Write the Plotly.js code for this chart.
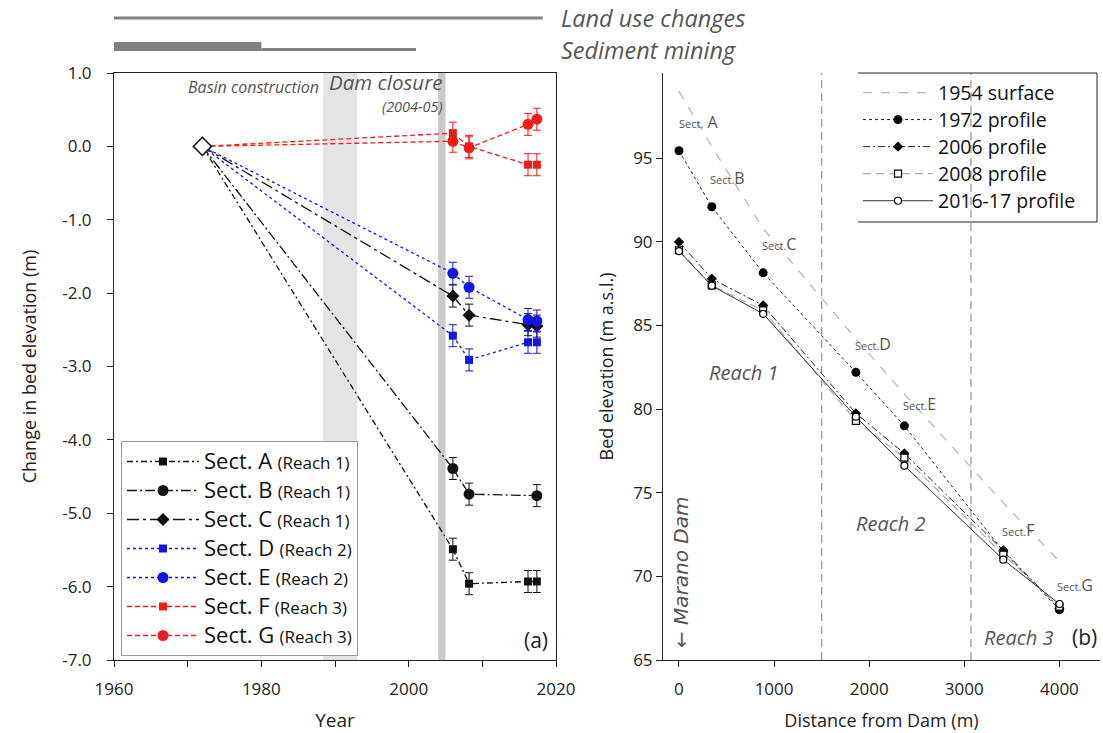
<!DOCTYPE html>
<html>
<head>
<meta charset="utf-8">
<script src="https://cdn.plot.ly/plotly-3.0.1.min.js"></script>
<style>html,body{margin:0;padding:0;background:#fff}#chart{width:1103px;height:733px}</style>
</head>
<body>
<div id="chart"></div>
<script>
// ---------- Panel (a): change in bed elevation ----------
const originYear = 1972;
const originValue = 0;
const surveyYears = [2006, 2008.2, 2016.2, 2017.4];
const surveyYearsB = [2006, 2008.2, 2017.4];
const sectA = [-5.49, -5.96, -5.93, -5.93];
const sectB = [-4.39, -4.74, -4.76];
const sectC = [-2.04, -2.30, -2.43, -2.45];
const sectD = [-2.58, -2.91, -2.67, -2.67];
const sectE = [-1.73, -1.92, -2.36, -2.38];
const sectF = [0.18, 0.00, -0.25, -0.25];
const sectG = [0.07, -0.02, 0.30, 0.37];
const errorBar = 0.15;
const basinConstruction = [1988.4, 1993];
const damClosure = [2004, 2005];
const landUseChanges = [1960, 2018.2];
const miningIntense = [1960, 1980];
const miningLight = [1980, 2001];
const yTicksA = [1, 0, -1, -2, -3, -4, -5, -6, -7];
const yTickTextA = ['1.0', '0.0', '-1.0', '-2.0', '-3.0', '-4.0', '-5.0', '-6.0', '-7.0'];
const xTicksA = [1960, 1980, 2000, 2020];

// ---------- Panel (b): longitudinal profiles ----------
const distance = [0, 345, 885, 1860, 2370, 3410, 4000];
const surface1954 = [99.0, 95.7, 90.8, 84.2, 80.9, 74.4, 70.9];
const profile1972 = [95.45, 92.1, 88.15, 82.2, 79.0, 71.5, 68.0];
const profile2006 = [90.0, 87.8, 86.2, 79.75, 77.35, 71.55, 68.1];
const profile2008 = [89.5, 87.4, 85.9, 79.3, 77.1, 71.3, 68.2];
const profile2016 = [89.45, 87.38, 85.7, 79.55, 76.62, 71.0, 68.35];
const profileNames = ['1954 surface', '1972 profile', '2006 profile', '2008 profile', '2016-17 profile'];
const reachBounds = [1500, 3070];
const sectLabels = ['A', 'B', 'C', 'D', 'E', 'F', 'G'];
const sectLabelX = [200, 510, 1053, 2037, 2526, 3568, 4168];
const sectLabelY = [97.2, 93.8, 89.9, 83.9, 80.3, 72.8, 69.5];
const xTicksB = [0, 1000, 2000, 3000, 4000];
const yTicksB = [65, 70, 75, 80, 85, 90, 95];

const FONT = '"Open Sans", "Noto Sans", sans-serif';
const BLACK = '#111111', BLUE = '#1414e6', RED = '#ee1c1c';

function pxY(p) { return 1 - p / 733; }
function pxX(p) { return p / 1103; }
function big(t, size) { return '<span style="font-size:' + size + 'px">' + t + '</span>'; }

const seriesA = [
  {name: 'A', reach: 1, x: surveyYears, y: sectA, color: BLACK, dash: '6px,3px,2px,3px', symbol: 'square', size: 8},
  {name: 'B', reach: 1, x: surveyYearsB, y: sectB, color: BLACK, dash: '10px,3px,2px,3px', symbol: 'circle', size: 11},
  {name: 'C', reach: 1, x: surveyYears, y: sectC, color: BLACK, dash: '12px,4px,3px,4px', symbol: 'diamond', size: 10},
  {name: 'D', reach: 2, x: surveyYears, y: sectD, color: BLUE, dash: 'dot', symbol: 'square', size: 8},
  {name: 'E', reach: 2, x: surveyYears, y: sectE, color: BLUE, dash: 'dot', symbol: 'circle', size: 11},
  {name: 'F', reach: 3, x: surveyYears, y: sectF, color: RED, dash: '5px,3px', symbol: 'square', size: 8},
  {name: 'G', reach: 3, x: surveyYears, y: sectG, color: RED, dash: '5px,3px', symbol: 'circle', size: 11}
];

const traces = [];
seriesA.forEach(s => {
  traces.push({
    x: [originYear, s.x[0]], y: [originValue, s.y[0]], xaxis: 'x', yaxis: 'y',
    mode: 'lines', line: {color: s.color, width: 1.3, dash: s.dash},
    showlegend: false, hoverinfo: 'skip'
  });
});
seriesA.forEach(s => {
  traces.push({
    x: s.x, y: s.y, xaxis: 'x', yaxis: 'y', legend: 'legend',
    name: big('Sect. ' + s.name, 22) + ' ' + big('(Reach ' + s.reach + ')', 17),
    mode: 'lines+markers',
    line: {color: s.color, width: 1.3, dash: s.dash},
    marker: {symbol: s.symbol, size: s.size, color: s.color},
    error_y: {type: 'constant', value: errorBar, color: s.color, thickness: 1, width: 4}
  });
});
traces.push({
  x: [originYear], y: [originValue], xaxis: 'x', yaxis: 'y', mode: 'markers',
  marker: {symbol: 'diamond', size: 14, color: '#ffffff', line: {color: BLACK, width: 1.5}},
  showlegend: false, hoverinfo: 'skip'
});

// Panel (b)
const LEG2 = 19.5;
traces.push({
  x: distance, y: surface1954, xaxis: 'x2', yaxis: 'y2', legend: 'legend2',
  name: big(profileNames[0], LEG2), mode: 'lines',
  line: {color: '#b4b4b4', width: 1.2, dash: '9px,9px'}
});
traces.push({
  x: distance, y: profile1972, xaxis: 'x2', yaxis: 'y2', legend: 'legend2',
  name: big(profileNames[1], LEG2), mode: 'lines+markers',
  line: {color: '#222', width: 1, dash: 'dot'},
  marker: {symbol: 'circle', size: 9, color: '#000'}
});
traces.push({
  x: distance, y: profile2006, xaxis: 'x2', yaxis: 'y2', legend: 'legend2',
  name: big(profileNames[2], LEG2), mode: 'lines+markers',
  line: {color: '#222', width: 1, dash: '7px,3px,2px,3px'},
  marker: {symbol: 'diamond', size: 8, color: '#000'}
});
traces.push({
  x: distance, y: profile2008, xaxis: 'x2', yaxis: 'y2', legend: 'legend2',
  name: big(profileNames[3], LEG2), mode: 'lines+markers',
  line: {color: '#aaaaaa', width: 1.2, dash: '8px,5px'},
  marker: {symbol: 'square', size: 7, color: '#fff', line: {color: '#000', width: 1.2}}
});
traces.push({
  x: distance, y: profile2016, xaxis: 'x2', yaxis: 'y2', legend: 'legend2',
  name: big(profileNames[4], LEG2), mode: 'lines+markers',
  line: {color: '#333', width: 1},
  marker: {symbol: 'circle', size: 7, color: '#fff', line: {color: '#000', width: 1.2}}
});

const shapes = [
  {type: 'rect', xref: 'x', yref: 'y domain', x0: basinConstruction[0], x1: basinConstruction[1], y0: 0, y1: 1,
   fillcolor: '#e4e4e4', line: {width: 0}, layer: 'below'},
  {type: 'rect', xref: 'x', yref: 'y domain', x0: damClosure[0], x1: damClosure[1], y0: 0, y1: 1,
   fillcolor: '#c9c9c9', line: {width: 0}, layer: 'below'},
  {type: 'line', xref: 'x', yref: 'paper', x0: landUseChanges[0], x1: landUseChanges[1], y0: pxY(18), y1: pxY(18),
   line: {color: '#808080', width: 3}},
  {type: 'rect', xref: 'x', yref: 'paper', x0: miningIntense[0], x1: miningIntense[1], y0: pxY(51), y1: pxY(42),
   fillcolor: '#808080', line: {width: 0}},
  {type: 'line', xref: 'x', yref: 'paper', x0: miningLight[0], x1: miningLight[1], y0: pxY(49.5), y1: pxY(49.5),
   line: {color: '#808080', width: 3}},
  {type: 'line', xref: 'x2', yref: 'y2 domain', x0: reachBounds[0], x1: reachBounds[0], y0: 0, y1: 1,
   line: {color: '#999', width: 1.3, dash: '8px,5px'}, layer: 'below'},
  {type: 'line', xref: 'x2', yref: 'y2 domain', x0: reachBounds[1], x1: reachBounds[1], y0: 0, y1: 1,
   line: {color: '#999', width: 1.3, dash: '8px,5px'}, layer: 'below'},
  // legend frame of panel (b)
  {type: 'line', xref: 'paper', yref: 'paper', x0: pxX(858), x1: pxX(1097), y0: pxY(73), y1: pxY(73), line: {color: '#222', width: 1}},
  {type: 'line', xref: 'paper', yref: 'paper', x0: pxX(858), x1: pxX(1097), y0: pxY(222), y1: pxY(222), line: {color: '#222', width: 1}},
  {type: 'line', xref: 'paper', yref: 'paper', x0: pxX(1097), x1: pxX(1097), y0: pxY(73), y1: pxY(222), line: {color: '#222', width: 1}}
];

const annGray = '#555555';
const annotations = [
  {xref: 'paper', yref: 'paper', x: pxX(559), y: pxY(18), xanchor: 'left', yanchor: 'middle', showarrow: false,
   text: '<i>Land use changes</i>', font: {family: FONT, size: 23.5, color: annGray}},
  {xref: 'paper', yref: 'paper', x: pxX(559), y: pxY(50), xanchor: 'left', yanchor: 'middle', showarrow: false,
   text: '<i>Sediment mining</i>', font: {family: FONT, size: 23.5, color: annGray}},
  {xref: 'paper', yref: 'paper', x: pxX(321), y: pxY(87), xanchor: 'right', yanchor: 'middle', showarrow: false,
   text: '<i>Basin construction</i>', font: {family: FONT, size: 16, color: annGray}},
  {xref: 'paper', yref: 'paper', x: pxX(385), y: pxY(82), xanchor: 'center', yanchor: 'middle', showarrow: false,
   text: '<i>Dam closure</i>', font: {family: FONT, size: 20.5, color: annGray}},
  {xref: 'paper', yref: 'paper', x: pxX(445), y: pxY(106), xanchor: 'right', yanchor: 'middle', showarrow: false,
   text: '<i>(2004-05)</i>', font: {family: FONT, size: 14.5, color: annGray}},
  {xref: 'paper', yref: 'paper', x: pxX(550), y: pxY(640), xanchor: 'right', yanchor: 'middle', showarrow: false,
   text: '(a)', font: {family: FONT, size: 21, color: '#222'}},
  {xref: 'paper', yref: 'paper', x: pxX(1099), y: pxY(637), xanchor: 'right', yanchor: 'middle', showarrow: false,
   text: '(b)', font: {family: FONT, size: 21, color: '#222'}},
  {xref: 'paper', yref: 'paper', x: pxX(744), y: pxY(372), xanchor: 'center', yanchor: 'middle', showarrow: false,
   text: '<i>Reach 1</i>', font: {family: FONT, size: 20, color: annGray}},
  {xref: 'paper', yref: 'paper', x: pxX(891), y: pxY(523), xanchor: 'center', yanchor: 'middle', showarrow: false,
   text: '<i>Reach 2</i>', font: {family: FONT, size: 20, color: annGray}},
  {xref: 'paper', yref: 'paper', x: pxX(1019), y: pxY(637), xanchor: 'center', yanchor: 'middle', showarrow: false,
   text: '<i>Reach 3</i>', font: {family: FONT, size: 20, color: annGray}},
  {xref: 'paper', yref: 'paper', x: pxX(681), y: pxY(572), xanchor: 'center', yanchor: 'middle', showarrow: false,
   textangle: -90, text: '<i>\u2190 Marano Dam</i>', font: {family: '"DejaVu Sans", sans-serif', size: 20, color: annGray}}
];
sectLabels.forEach((s, i) => {
  annotations.push({
    xref: 'x2', yref: 'y2', x: sectLabelX[i], y: sectLabelY[i], xanchor: 'center', yanchor: 'middle', showarrow: false,
    text: '<span style="font-size:11px">Sect.</span>' + (i === 0 ? ' ' : '') + s, font: {family: FONT, size: 16, color: annGray}
  });
});

const axisCommon = {
  showline: true, linecolor: '#222', linewidth: 1, ticks: 'outside', ticklen: 6, tickcolor: '#222',
  showgrid: false, zeroline: false, tickfont: {family: FONT, size: 17, color: '#222'}, automargin: false
};

const yDom = [pxY(660), pxY(73)];
const layout = {
  width: 1103, height: 733,
  margin: {l: 0, r: 0, t: 0, b: 0},
  paper_bgcolor: '#fff', plot_bgcolor: 'rgba(0,0,0,0)',
  font: {family: FONT, color: '#222'},
  showlegend: true,
  xaxis: Object.assign({}, axisCommon, {
    domain: [pxX(114), pxX(556)], range: [1960, 2020], tickmode: 'array', tickvals: xTicksA,
    mirror: true, anchor: 'y', ticklabelstandoff: 8,
    minor: {dtick: 10, ticks: 'outside', ticklen: 6, tickcolor: '#222', showgrid: false},
    title: {text: 'Year', font: {family: FONT, size: 19, color: '#222'}, standoff: 14}
  }),
  yaxis: Object.assign({}, axisCommon, {
    domain: yDom, range: [-7, 1], tickmode: 'array', tickvals: yTicksA, ticktext: yTickTextA,
    mirror: true, anchor: 'x', ticklabelstandoff: 12,
    title: {text: 'Change in bed elevation (m)', font: {family: FONT, size: 18, color: '#222'}, standoff: 20}
  }),
  xaxis2: Object.assign({}, axisCommon, {
    domain: [pxX(663), pxX(1100)], range: [-168, 4427], tickmode: 'array', tickvals: xTicksB, anchor: 'y2',
    ticklabelstandoff: 8,
    title: {text: 'Distance from Dam (m)', font: {family: FONT, size: 18, color: '#222'}, standoff: 14}
  }),
  yaxis2: Object.assign({}, axisCommon, {
    domain: yDom, range: [65, 100.1], tickmode: 'array', tickvals: yTicksB, anchor: 'x2',
    title: {text: 'Bed elevation (m a.s.l.)', font: {family: FONT, size: 18, color: '#222'}, standoff: 14}
  }),
  legend: {
    x: pxX(121), y: pxY(441), xanchor: 'left', yanchor: 'top', bgcolor: '#fff',
    bordercolor: '#999', borderwidth: 1, font: {family: FONT, size: 20, color: '#111'},
    tracegroupgap: 0, itemwidth: 72
  },
  legend2: {
    x: pxX(858), y: pxY(74), xanchor: 'left', yanchor: 'top', bgcolor: 'rgba(255,255,255,0)',
    borderwidth: 0, font: {family: FONT, size: 18.5, color: '#111'}, tracegroupgap: 0, itemwidth: 70
  },
  shapes: shapes,
  annotations: annotations
};

Plotly.newPlot('chart', traces, layout, {displayModeBar: false, staticPlot: true});
</script>
</body>
</html>
